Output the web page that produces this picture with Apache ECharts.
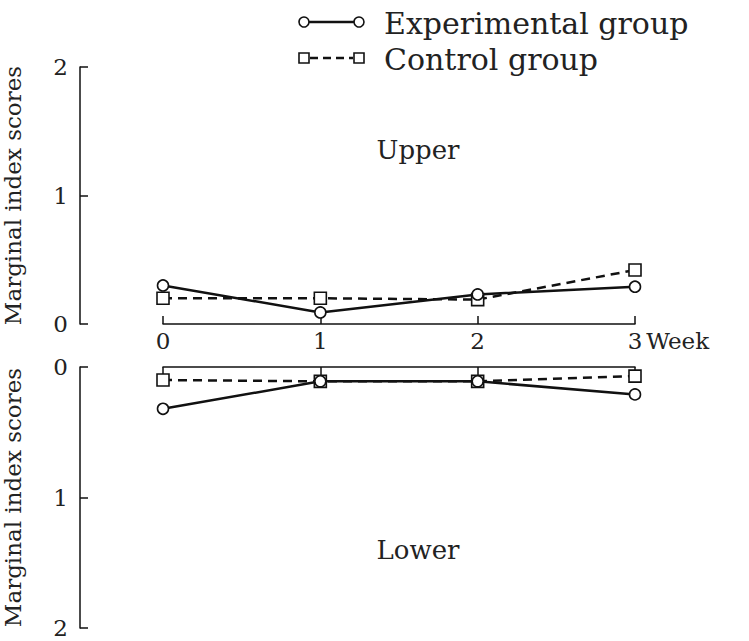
<!DOCTYPE html>
<html><head><meta charset="utf-8">
<script src="https://cdn.jsdelivr.net/npm/echarts@6/dist/echarts.min.js"></script>
<style>html,body{margin:0;padding:0;background:#fff}#c{width:749px;height:641px}</style>
</head><body><div id="c"></div>
<script>
const weeks = [0, 1, 2, 3];
const upperExperimental = [0.30, 0.09, 0.23, 0.29];
const upperControl = [0.20, 0.20, 0.19, 0.42];
const lowerExperimental = [0.32, 0.11, 0.11, 0.21];
const lowerControl = [0.10, 0.11, 0.11, 0.07];
const yTicks = [0, 1, 2];
const seriesNames = ['Experimental group', 'Control group'];

const FONT = 'DejaVu Serif';
const pair = (xs, ys) => xs.map((x, i) => [x, ys[i]]);

const chart = echarts.init(document.getElementById('c'), null, {renderer: 'svg'});
const yAxisBase = {
  type: 'value', min: yTicks[0], max: yTicks[yTicks.length - 1], interval: 1, offset: 83,
  axisLine: {show: true, onZero: false, lineStyle: {color: '#111', width: 1.5}},
  axisTick: {show: true, inside: true, length: 8, lineStyle: {color: '#111', width: 1.5}},
  splitLine: {show: false},
  axisLabel: {fontFamily: FONT, fontSize: 23, color: '#222', margin: 12},
  name: 'Marginal index scores', nameLocation: 'middle', nameRotate: 90, nameGap: 56,
  nameTextStyle: {fontFamily: FONT, fontSize: 23, color: '#222'}
};
const lineStyleSolid = {color: '#111', width: 2.5, type: 'solid'};
const lineStyleDash = {color: '#111', width: 2.5, type: [9, 6]};
const markItem = {color: '#fff', borderColor: '#111', borderWidth: 1.6};

chart.setOption({
  animation: false,
  grid: [
    {left: 163, width: 472, top: 67, height: 257, containLabel: false, outerBoundsMode: 'none'},
    {left: 163, width: 472, top: 367, height: 261, containLabel: false, outerBoundsMode: 'none'}
  ],
  xAxis: [
    {gridIndex: 0, type: 'value', min: 0, max: 3, interval: 1,
     axisLine: {show: true, lineStyle: {color: '#111', width: 1.5}},
     axisTick: {show: true, inside: true, length: 8, lineStyle: {color: '#111', width: 1.5}},
     splitLine: {show: false},
     axisLabel: {fontFamily: FONT, fontSize: 23, color: '#222', margin: 5},
     name: 'Week', nameLocation: 'end', nameGap: 9,
     nameTextStyle: {fontFamily: FONT, fontSize: 23, color: '#222', align: 'left', verticalAlign: 'top', padding: [5, 0, 0, 0]}},
    {gridIndex: 1, type: 'value', min: 0, max: 3, interval: 1, position: 'top',
     axisLine: {show: true, lineStyle: {color: '#111', width: 1.5}},
     axisTick: {show: true, inside: true, length: 8, lineStyle: {color: '#111', width: 1.5}},
     splitLine: {show: false},
     axisLabel: {show: false}}
  ],
  yAxis: [
    Object.assign({}, yAxisBase, {gridIndex: 0}),
    Object.assign({}, yAxisBase, {gridIndex: 1, inverse: true})
  ],
  series: [
    {name: seriesNames[0], type: 'line', xAxisIndex: 0, yAxisIndex: 0, data: pair(weeks, upperExperimental),
     symbol: 'circle', symbolSize: 11, lineStyle: lineStyleSolid, itemStyle: markItem, z: 3},
    {name: seriesNames[1], type: 'line', xAxisIndex: 0, yAxisIndex: 0, data: pair(weeks, upperControl),
     symbol: 'rect', symbolSize: 12, lineStyle: lineStyleDash, itemStyle: markItem, z: 2},
    {name: seriesNames[0], type: 'line', xAxisIndex: 1, yAxisIndex: 1, data: pair(weeks, lowerExperimental),
     symbol: 'circle', symbolSize: 11, lineStyle: lineStyleSolid, itemStyle: markItem, z: 3},
    {name: seriesNames[1], type: 'line', xAxisIndex: 1, yAxisIndex: 1, data: pair(weeks, lowerControl),
     symbol: 'rect', symbolSize: 12, lineStyle: lineStyleDash, itemStyle: markItem, z: 2}
  ],
  graphic: [
    {type: 'line', shape: {x1: 309, y1: 22, x2: 354, y2: 22}, style: {stroke: '#111', lineWidth: 2.5}},
    {type: 'circle', shape: {cx: 304, cy: 22, r: 5}, style: {fill: '#fff', stroke: '#111', lineWidth: 1.6}},
    {type: 'circle', shape: {cx: 359, cy: 22, r: 5}, style: {fill: '#fff', stroke: '#111', lineWidth: 1.6}},
    {type: 'text', x: 384, y: 23, style: {text: seriesNames[0], font: '30px "DejaVu Serif"', fill: '#222', verticalAlign: 'middle', textVerticalAlign: 'middle'}},
    {type: 'line', shape: {x1: 310, y1: 58, x2: 353, y2: 58}, style: {stroke: '#111', lineWidth: 2.5, lineDash: [8, 5]}},
    {type: 'rect', shape: {x: 299, y: 53, width: 10, height: 10}, style: {fill: '#fff', stroke: '#111', lineWidth: 1.6}},
    {type: 'rect', shape: {x: 354, y: 53, width: 10, height: 10}, style: {fill: '#fff', stroke: '#111', lineWidth: 1.6}},
    {type: 'text', x: 384, y: 59, style: {text: seriesNames[1], font: '30px "DejaVu Serif"', fill: '#222', verticalAlign: 'middle', textVerticalAlign: 'middle'}},
    {type: 'text', x: 418, y: 150, style: {text: 'Upper', font: '26px "DejaVu Serif"', fill: '#222', align: 'center', textAlign: 'center', verticalAlign: 'middle', textVerticalAlign: 'middle'}},
    {type: 'text', x: 418, y: 550, style: {text: 'Lower', font: '26px "DejaVu Serif"', fill: '#222', align: 'center', textAlign: 'center', verticalAlign: 'middle', textVerticalAlign: 'middle'}}
  ]
});
</script></body></html>
